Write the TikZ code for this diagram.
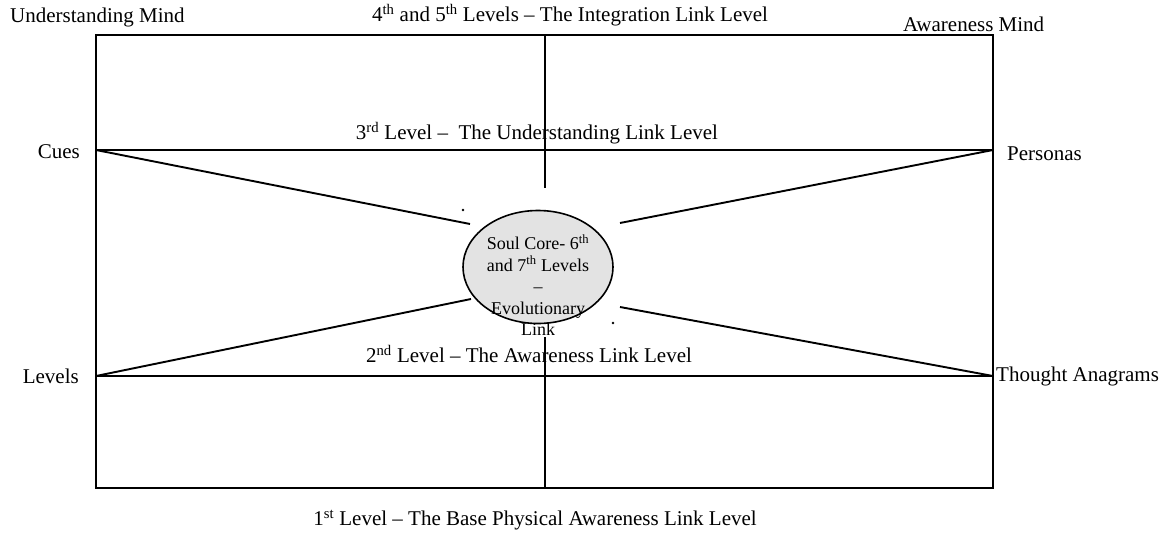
\documentclass[tikz,border=0pt]{standalone}
\usepackage{fontspec}
\setmainfont{Liberation Serif}
\usetikzlibrary{shapes.geometric}
\begin{document}
\begin{tikzpicture}[x=1pt,y=-1pt,
  lbl/.style={inner sep=0pt,font=\fontsize{21}{25}\selectfont},
  frame/.style={line width=1.6pt},
  diag/.style={line width=1.9pt},
  coreshape/.style={ellipse,draw,line width=1.6pt,fill=black!11,minimum width=150pt,minimum height=113pt,inner sep=0pt},
  coretxt/.style={align=center,inner sep=0pt,font=\fontsize{18}{21.5}\selectfont}]
\useasboundingbox (0,0) rectangle (1165,533);
% frame corners and junctions
\coordinate (tl) at (96,35);
\coordinate (tr) at (993,35);
\coordinate (bl) at (96,488);
\coordinate (br) at (993,488);
\coordinate (cues) at (96,150);
\coordinate (pers) at (993,150);
\coordinate (lev) at (96,376);
\coordinate (tho) at (993,376);
\coordinate (vt) at (545,35);
\coordinate (vtb) at (545,188);
\coordinate (vbt) at (545,337);
\coordinate (vb) at (545,488);
\coordinate (eUL) at (470,224);
\coordinate (eUR) at (620,223);
\coordinate (eLL) at (471,299);
\coordinate (eLR) at (620,307);
% frame
\draw[frame] (tl) -- (tr) -- (br) -- (bl) -- cycle;
\draw[frame] (cues) -- (pers);
\draw[frame] (lev) -- (tho);
\draw[frame] (vt) -- (vtb);
\draw[frame] (vbt) -- (vb);
% diagonals
\draw[diag] (cues) -- (eUL);
\draw[diag] (pers) -- (eUR);
\draw[diag] (lev) -- (eLL);
\draw[diag] (tho) -- (eLR);
% core
\node[coreshape] (core) at (538,267) {};
\node[coretxt] (coretext) at (538,285) {Soul Core- 6\textsuperscript{th}\\and 7\textsuperscript{th} Levels\\–\\Evolutionary\\Link};
\fill (463,210) circle (1.3pt) (613,323) circle (1.3pt);
% labels
\node[lbl,anchor=west] (um) at (10,17) {Understanding Mind};
\node[lbl] (l45) at (570,15) {4\textsuperscript{th} and 5\textsuperscript{th} Levels – The Integration Link Level};
\node[lbl,anchor=west] (am) at (903,24) {Awareness Mind};
\node[lbl] (l3) at (537,133) {3\textsuperscript{rd} Level –\ \ The Understanding Link Level};
\node[lbl,anchor=east] (cueslbl) at (80,152) {Cues};
\node[lbl,anchor=west] (perslbl) at (1007,154) {Personas};
\node[lbl] (l2) at (529,354) {2\textsuperscript{nd} Level – The Awareness Link Level};
\node[lbl,anchor=east] (levlbl) at (79,376) {Levels};
\node[lbl,anchor=west] (tholbl) at (996,376) {Thought Anagrams};
\node[lbl] (l1) at (535,520) {1\textsuperscript{st} Level – The Base Physical Awareness Link Level};
\end{tikzpicture}
\end{document}
